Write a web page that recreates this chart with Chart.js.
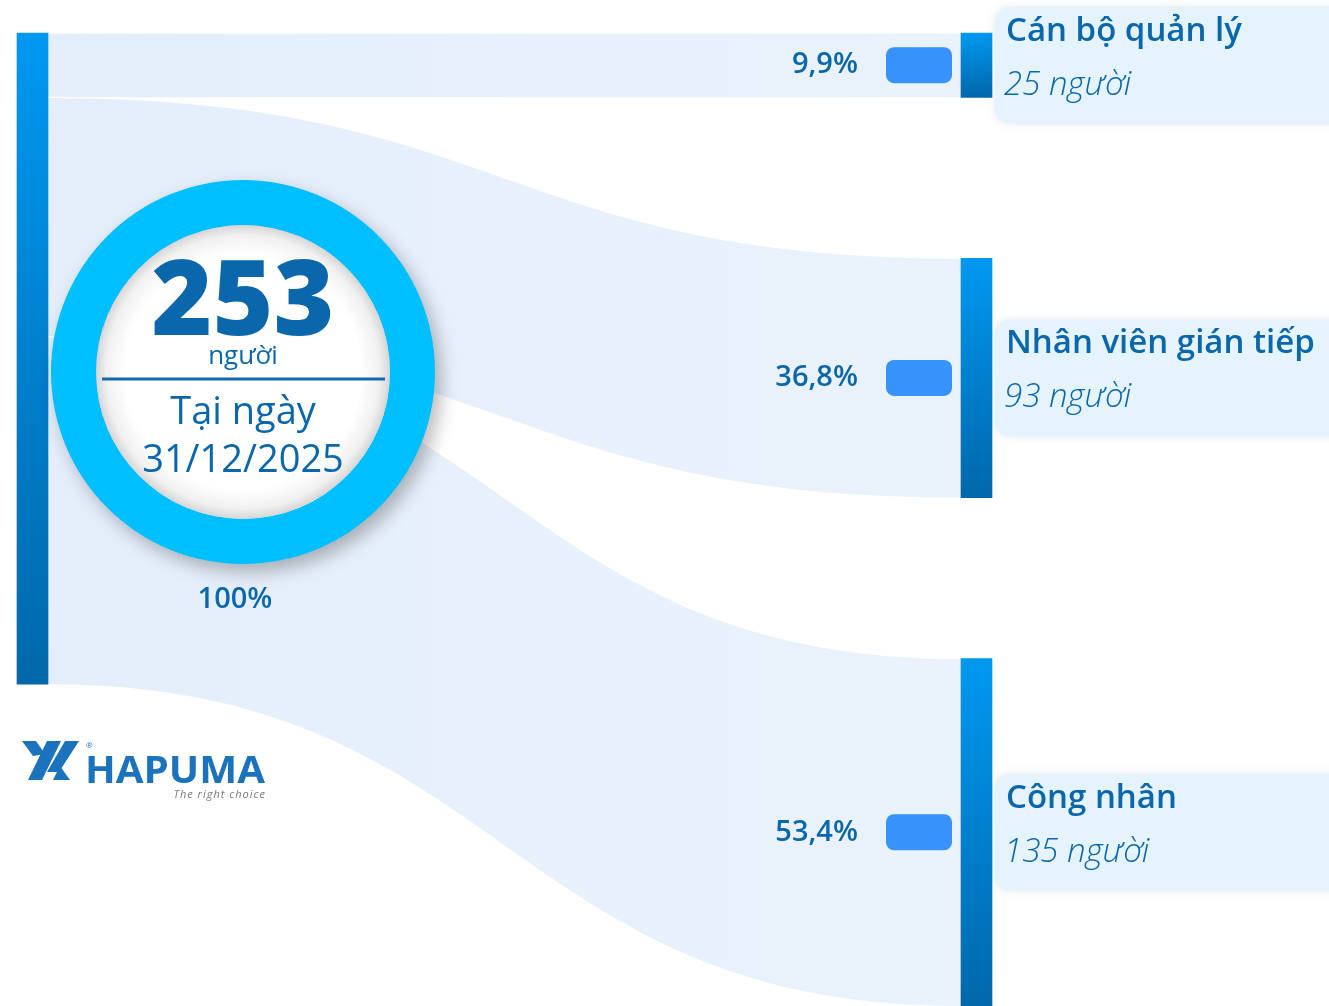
<!DOCTYPE html>
<html>
<head>
<meta charset="utf-8">
<script src="https://cdn.jsdelivr.net/npm/chart.js@4.4.1/dist/chart.umd.min.js"></script>
<style>
  html, body { margin: 0; padding: 0; background: #fff; overflow: hidden; }
  #wrap { position: relative; width: 1329px; height: 1006px; }
  #flow { position: absolute; left: 0; top: 0; }
  #ring { position: absolute; left: 23px; top: 152px; }
</style>
</head>
<body>
<div id="wrap">
  <canvas id="flow" width="1329" height="1006"></canvas>
  <canvas id="ring" width="440" height="440"></canvas>
</div>
<script>
// Dữ liệu
const categories = ['Cán bộ quản lý', 'Nhân viên gián tiếp', 'Công nhân'];
const headcount = [25, 93, 135];
const percentLabels = ['9,9%', '36,8%', '53,4%'];
const totalPercentLabel = '100%';
const unitLabel = 'người';
const dateLabels = ['Tại ngày', '31/12/2025'];

const total = headcount.reduce((a, b) => a + b, 0);
const nodeGap = 62.5; // khoảng cách giữa các nút bên phải (đơn vị người)
const yMax = total + nodeGap * (headcount.length - 1);

const colors = {
    text: '#0b67ab',
    nodeTop: '#0098f0',
    nodeBottom: '#0068aa',
    flowLeft: '#e4eefb',
    flowRight: '#eaf3fc',
    pill: '#3792fb',
    box: '#e5f3fd',
    ring: '#00bfff',
    logo: '#1b72bd'
};
const FONT = "'Open Sans', 'Noto Sans', sans-serif";

// nút nguồn + các nút đích
const nodes = [{ x: 0, y: [0, total] }];
let cursor = 0;
headcount.forEach(v => {
    nodes.push({ x: 1, y: [cursor, cursor + v] });
    cursor += v + nodeGap;
});

function nodeGradient(c) {
    const chart = c.chart;
    if (!chart.chartArea || c.type !== 'data') return '#0082d6';
    const y = chart.scales.y;
    const g = chart.ctx.createLinearGradient(0, y.getPixelForValue(c.raw.y[0]), 0, y.getPixelForValue(c.raw.y[1]));
    g.addColorStop(0, colors.nodeTop);
    g.addColorStop(1, colors.nodeBottom);
    return g;
}

function roundRect(ctx, x, y, w, h, r) {
    ctx.beginPath();
    ctx.moveTo(x + r, y);
    ctx.arcTo(x + w, y, x + w, y + h, r);
    ctx.arcTo(x + w, y + h, x, y + h, r);
    ctx.arcTo(x, y + h, x, y, r);
    ctx.arcTo(x, y, x + w, y, r);
    ctx.closePath();
}

const BAR = 31;

// Các dải luồng (sankey)
const flowPlugin = {
    id: 'flows',
    beforeDatasetsDraw(chart) {
        const { ctx, scales: { x, y } } = chart;
        const x0 = x.getPixelForValue(0) + BAR / 2;
        const x1 = x.getPixelForValue(1) - BAR / 2;
        const xm = (x0 + x1) / 2;
        const grad = ctx.createLinearGradient(x0, 0, x1, 0);
        grad.addColorStop(0, colors.flowLeft);
        grad.addColorStop(1, colors.flowRight);
        ctx.save();
        ctx.fillStyle = grad;
        let left = 0;
        headcount.forEach((v, i) => {
            const t = nodes[i + 1].y;
            const a0 = y.getPixelForValue(left), b0 = y.getPixelForValue(left + v);
            const a1 = y.getPixelForValue(t[0]), b1 = y.getPixelForValue(t[1]);
            ctx.beginPath();
            ctx.moveTo(x0, a0);
            ctx.bezierCurveTo(xm, a0, xm, a1, x1, a1);
            ctx.lineTo(x1, b1);
            ctx.bezierCurveTo(xm, b1, xm, b0, x0, b0);
            ctx.closePath();
            ctx.fill();
            // đường trắng mảnh ngăn cách
            ctx.strokeStyle = 'rgba(255,255,255,0.9)';
            ctx.lineWidth = 1.5;
            ctx.beginPath();
            ctx.moveTo(x0, a0);
            ctx.bezierCurveTo(xm, a0, xm, a1, x1, a1);
            ctx.stroke();
            left += v;
        });
        ctx.restore();
    }
};

function drawLogo(ctx) {
    ctx.save();
    ctx.fillStyle = colors.logo;
    const polys = [
        [[22, 741], [36, 741], [45, 754], [33, 756]],
        [[47, 741], [61, 741], [42, 780], [28, 780]],
        [[65, 741], [79, 741], [59, 772], [47, 772]],
        [[60, 766], [70, 780], [53, 780]]
    ];
    polys.forEach(p => {
        ctx.beginPath();
        ctx.moveTo(p[0][0], p[0][1]);
        p.slice(1).forEach(q => ctx.lineTo(q[0], q[1]));
        ctx.closePath();
        ctx.fill();
    });
    ctx.font = 'bold 37px ' + FONT;
    ctx.textBaseline = 'alphabetic';
    const w = ctx.measureText('HAPUMA').width;
    ctx.save();
    ctx.translate(85, 783);
    ctx.scale(180 / w, 1);
    ctx.fillText('HAPUMA', 0, 0);
    ctx.restore();
    ctx.font = '8px ' + FONT;
    ctx.fillText('®', 86, 748);
    ctx.fillStyle = '#7a7a7a';
    ctx.font = 'italic 11px ' + FONT;
    ctx.letterSpacing = '1px';
    ctx.textAlign = 'right';
    ctx.fillText('The right choice', 266, 798);
    ctx.restore();
}

// Nhãn bên phải, phần trăm, logo
const labelPlugin = {
    id: 'labels',
    afterDraw(chart) {
        const { ctx, scales: { x, y } } = chart;
        const xr = x.getPixelForValue(1);
        ctx.save();
        headcount.forEach((v, i) => {
            const t = nodes[i + 1].y;
            const cy = (y.getPixelForValue(t[0]) + y.getPixelForValue(t[1])) / 2;

            // ô nền nhãn
            ctx.save();
            ctx.shadowColor = 'rgba(90,130,170,0.18)';
            ctx.shadowBlur = 10;
            ctx.fillStyle = colors.box;
            roundRect(ctx, xr + BAR / 2 + 3, cy - 58, 360, 116, 14);
            ctx.fill();
            ctx.restore();

            // viên thuốc xanh
            ctx.fillStyle = colors.pill;
            roundRect(ctx, xr - BAR / 2 - 75, cy - 18, 66, 36, 8);
            ctx.fill();

            ctx.fillStyle = colors.text;
            ctx.textBaseline = 'middle';
            ctx.textAlign = 'right';
            ctx.font = '600 29px ' + FONT;
            ctx.fillText(percentLabels[i], xr - BAR / 2 - 103, cy);

            ctx.textAlign = 'left';
            ctx.font = '600 33px ' + FONT;
            ctx.fillText(categories[i], xr + BAR / 2 + 14, cy - 34);
            ctx.font = 'italic 300 33px ' + FONT;
            ctx.fillText(v + ' ' + unitLabel, xr + BAR / 2 + 12, cy + 20);
        });

        ctx.fillStyle = colors.text;
        ctx.textAlign = 'center';
        ctx.textBaseline = 'middle';
        ctx.font = '600 29px ' + FONT;
        ctx.fillText(totalPercentLabel, 235, 600);
        ctx.restore();

        drawLogo(ctx);
    }
};

new Chart(document.getElementById('flow'), {
    type: 'bar',
    data: {
        datasets: [{
            data: nodes,
            backgroundColor: nodeGradient,
            barThickness: BAR,
            borderWidth: 0,
            borderSkipped: false,
            clip: false
        }]
    },
    options: {
        responsive: false,
        animation: false,
        events: [],
        layout: { padding: { left: 17 + BAR / 2, right: 1329 - 992 + BAR / 2, top: 33, bottom: 0 } },
        plugins: { legend: { display: false }, tooltip: { enabled: false } },
        scales: {
            x: { type: 'linear', min: 0, max: 1, display: false, offset: false },
            y: { type: 'linear', min: 0, max: yMax, reverse: true, display: false }
        }
    },
    plugins: [flowPlugin, labelPlugin]
});

// Vòng tròn tổng số
const ringPlugin = {
    id: 'ringDecor',
    beforeDatasetsDraw(chart) {
        const ctx = chart.ctx;
        ctx.save();
        ctx.shadowColor = 'rgba(0,0,0,0.28)';
        ctx.shadowBlur = 18;
        ctx.shadowOffsetX = 6;
        ctx.shadowOffsetY = 8;
    },
    afterDatasetsDraw(chart) {
        const ctx = chart.ctx;
        ctx.restore();
        const arc = chart.getDatasetMeta(0).data[0];
        const cx = arc.x, cy = arc.y, r = arc.innerRadius;
        const g = ctx.createRadialGradient(cx, cy, 0, cx, cy, r);
        g.addColorStop(0, '#ffffff');
        g.addColorStop(0.8, '#ffffff');
        g.addColorStop(0.93, '#f1f1f1');
        g.addColorStop(1, '#d6d6d6');
        ctx.save();
        ctx.fillStyle = g;
        ctx.beginPath();
        ctx.arc(cx, cy, r, 0, Math.PI * 2);
        ctx.fill();

        ctx.fillStyle = colors.text;
        ctx.textAlign = 'center';
        ctx.textBaseline = 'alphabetic';
        ctx.font = '800 104px ' + FONT;
        ctx.fillText(String(total), cx, cy - 37);
        ctx.font = '26px ' + FONT;
        ctx.fillText(unitLabel, cx, cy - 8);

        ctx.strokeStyle = '#1468ab';
        ctx.lineWidth = 3;
        ctx.beginPath();
        ctx.moveTo(cx - 141, cy + 7);
        ctx.lineTo(cx + 142, cy + 7);
        ctx.stroke();

        ctx.font = '38px ' + FONT;
        ctx.fillText(dateLabels[0], cx, cy + 52);
        ctx.fillText(dateLabels[1], cx, cy + 100);
        ctx.restore();
    }
};

new Chart(document.getElementById('ring'), {
    type: 'doughnut',
    data: {
        labels: ['Tổng số'],
        datasets: [{ data: [total], backgroundColor: colors.ring, borderWidth: 0 }]
    },
    options: {
        responsive: false,
        animation: false,
        events: [],
        cutout: '76.5%',
        layout: { padding: 28 },
        plugins: { legend: { display: false }, tooltip: { enabled: false } }
    },
    plugins: [ringPlugin]
});
</script>
</body>
</html>
